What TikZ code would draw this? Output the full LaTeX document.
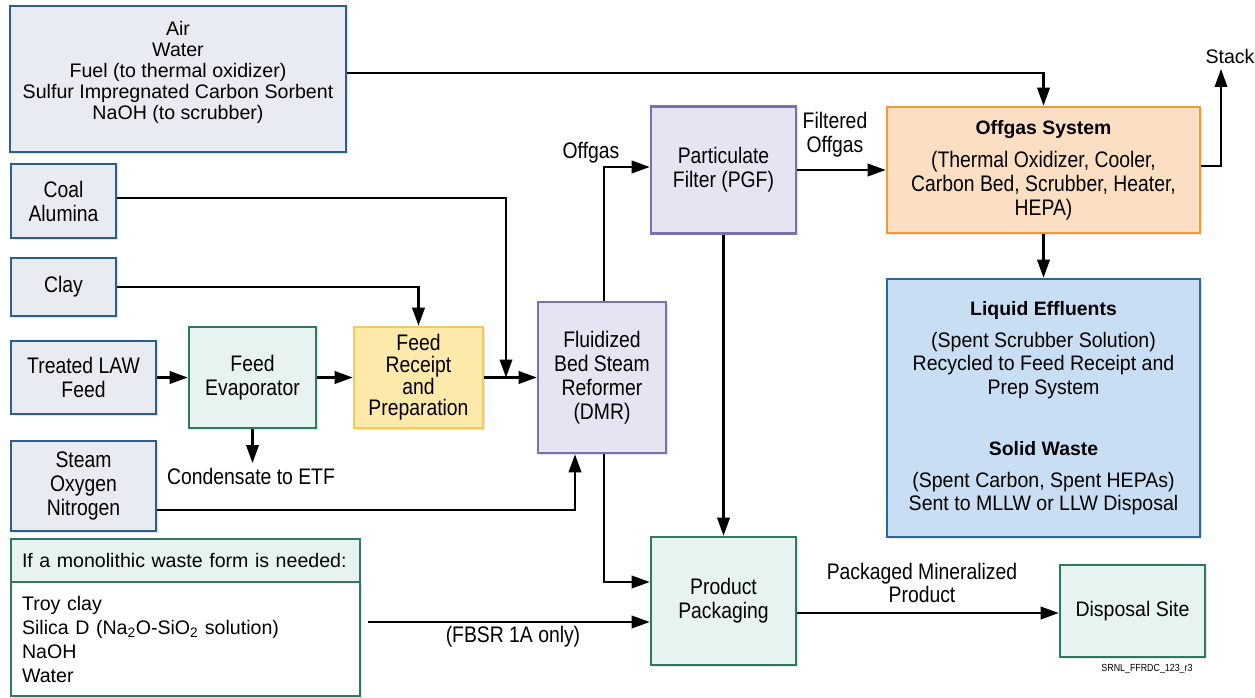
\documentclass[tikz,border=0pt]{standalone}
\usepackage{fontspec}
\setmainfont{Liberation Sans}
\newfontfamily\condfont[FakeStretch=0.86]{Liberation Sans}
\newfontfamily\midfont[FakeStretch=0.93]{Liberation Sans}
\usetikzlibrary{arrows.meta,shadows,calc}

\definecolor{inFill}{HTML}{E8EBF1}
\definecolor{inLine}{HTML}{2B5E8C}
\definecolor{grFill}{HTML}{E6F3F0}
\definecolor{grLine}{HTML}{2F7A5E}
\definecolor{yeFill}{HTML}{FDE9A9}
\definecolor{yeLine}{HTML}{F4CA55}
\definecolor{puFill}{HTML}{E5E4F2}
\definecolor{puLine}{HTML}{7771AC}
\definecolor{orFill}{HTML}{FCDFC3}
\definecolor{orLine}{HTML}{EE9B3D}
\definecolor{blFill}{HTML}{C9DEF2}
\definecolor{blLine}{HTML}{2C6897}

\newcommand{\ttlfont}{\rmfamily\bfseries\fontsize{19.4}{24}\selectfont}

\begin{document}
\begin{tikzpicture}[x=1pt,y=-1pt,
  base/.style={draw, line width=2.6pt, inner sep=0pt, align=center,
    drop shadow={shadow xshift=1.5pt, shadow yshift=-1.5pt, opacity=0.22}},
  inbox/.style={base, draw=inLine, fill=inFill},
  grbox/.style={base, draw=grLine, fill=grFill},
  yebox/.style={base, draw=yeLine, fill=yeFill},
  pubox/.style={base, draw=puLine, fill=puFill},
  orbox/.style={base, draw=orLine, fill=orFill},
  blbox/.style={base, draw=blLine, fill=blFill},
  cond/.style={font={\fontsize{22.5}{24}\condfont}},
  mid/.style={font={\fontsize{21}{23.5}\midfont}},
  plain/.style={font={\fontsize{19.6}{21}\selectfont}},
  arr/.style={-{Triangle[length=18pt,width=12.5pt]}, line width=2.1pt, black},
]
\useasboundingbox (0,0) rectangle (1255,698);
\fill[white] (0,0) rectangle (1255,698);

% supply streams
\node[inbox, minimum width=336pt, minimum height=146pt] (top) at (178,79) {};
\node[plain, align=center] (topt) at (178,72)
  {Air\\Water\\Fuel (to thermal oxidizer)\\Sulfur Impregnated Carbon Sorbent\\NaOH (to scrubber)};
\node[inbox, cond, minimum width=105pt, minimum height=74pt] (coal) at (63.5,201) {Coal\\Alumina};
\node[inbox, cond, minimum width=105pt, minimum height=58pt] (clay) at (63.5,287) {Clay};
\node[inbox, cond, minimum width=145pt, minimum height=73pt] (law) at (83.5,377.5) {Treated LAW\\Feed};
\node[inbox, cond, minimum width=145pt, minimum height=90pt] (steam) at (83.5,486) {Steam\\Oxygen\\Nitrogen};

% process units
\node[grbox, cond, minimum width=127pt, minimum height=101pt] (fe) at (252.5,377.5) {Feed\\Evaporator};
\node[yebox, font={\fontsize{22.5}{21.7}\condfont}, minimum width=129pt, minimum height=101pt] (fr) at (418.5,377.5)
  {Feed\\Receipt\\and\\Preparation};
\node[pubox, cond, minimum width=128pt, minimum height=151pt] (dmr) at (602,377.5)
  {Fluidized\\Bed Steam\\Reformer\\(DMR)};
\node[pubox, cond, minimum width=145pt, minimum height=127pt] (pgf) at (723.5,170) {Particulate\\Filter (PGF)};
\node[orbox, cond, minimum width=313pt, minimum height=126pt] (os) at (1043.5,170)
  {{\ttlfont Offgas System}\\[9pt](Thermal Oxidizer, Cooler,\\Carbon Bed, Scrubber, Heater,\\HEPA)};
\node[blbox, mid, minimum width=313pt, minimum height=258pt] (liq) at (1043.5,408)
  {{\ttlfont Liquid Effluents}\\[8.5pt](Spent Scrubber Solution)\\Recycled to Feed Receipt and\\Prep System\\[37.5pt]
   {\ttlfont Solid Waste}\\[8.5pt](Spent Carbon, Spent HEPAs)\\Sent to MLLW or LLW Disposal};
\node[grbox, cond, minimum width=145pt, minimum height=128pt] (pp) at (723.5,601) {Product\\Packaging};
\node[grbox, mid, minimum width=145pt, minimum height=92pt] (ds) at (1132.5,611) {Disposal Site};

% optional monolith additives
\node[base, draw=grLine, fill=white, plain, align=left, text width=327pt, inner xsep=11pt,
      minimum width=349pt, minimum height=114pt, font={\fontsize{19.6}{24}\selectfont}] (monob) at (185.5,639)
  {Troy clay\\Silica D (Na\textsubscript{2}O-SiO\textsubscript{2} solution)\\NaOH\\Water};
\node[draw=grLine, fill=grFill, line width=2.6pt, plain, align=left, text width=327pt, inner xsep=11pt, inner ysep=0pt,
      minimum width=349pt, minimum height=43pt] (monoh) at (185.5,560.5)
  {If a monolithic waste form is needed:};

% connector end points
\coordinate (cj) at (506,377.5);
\coordinate (condtip) at (252.5,463);
\coordinate (stacktip) at (1221,69);
\coordinate (monoout) at ([xshift=7pt,yshift=17pt]monob.east);
\coordinate (ppout) at ([yshift=-12pt]pp.east);

% flows
\draw[arr] ([yshift=6pt]top.east) -| (os.north);
\draw[arr] ([yshift=3pt]coal.east) -| (cj);
\draw[arr] (clay.east) -| (fr.north);
\draw[arr] (law.east) -- (fe.west);
\draw[arr] (fe.east) -- (fr.west);
\draw[arr] (fr.east) -- (dmr.west);
\draw[arr] (fe.south) -- (condtip);
\draw[arr] ([yshift=-24pt]steam.east) -| ([xshift=-27pt]dmr.south);
\draw[arr] ([xshift=2pt]dmr.north) |- ([yshift=3pt]pgf.west);
\draw[arr] (pgf.east) -- (os.west);
\draw[arr] (pgf.south) -- (pp.north);
\draw[arr] ([xshift=2pt]dmr.south) |- ([yshift=19pt]pp.west);
\draw[arr] (monoout) -- (monoout -| pp.west);
\draw[arr] (ppout) -- (ppout -| ds.west);
\draw[arr] (os.south) -- (liq.north);
\draw[arr] ([yshift=4pt]os.east) -| (stacktip);

% stream labels
\node[cond] (lbloff) at (591,153) {Offgas};
\node[cond, align=center] (lblfilt) at (835,135) {Filtered\\Offgas};
\node[plain] (lblstack) at (1230,56) {Stack};
\node[cond] (lblcond) at (251,476) {Condensate to ETF};
\node[font={\fontsize{22.5}{23}\condfont}, align=center] (lblpack) at (922,583) {Packaged Mineralized\\Product};
\node[cond] (lblfbsr) at (513,637) {(FBSR 1A only)};
\node[font={\fontsize{10.3}{12}\condfont}] (lblid) at (1147,669) {SRNL\_FFRDC\_123\_r3};
\end{tikzpicture}
\end{document}
